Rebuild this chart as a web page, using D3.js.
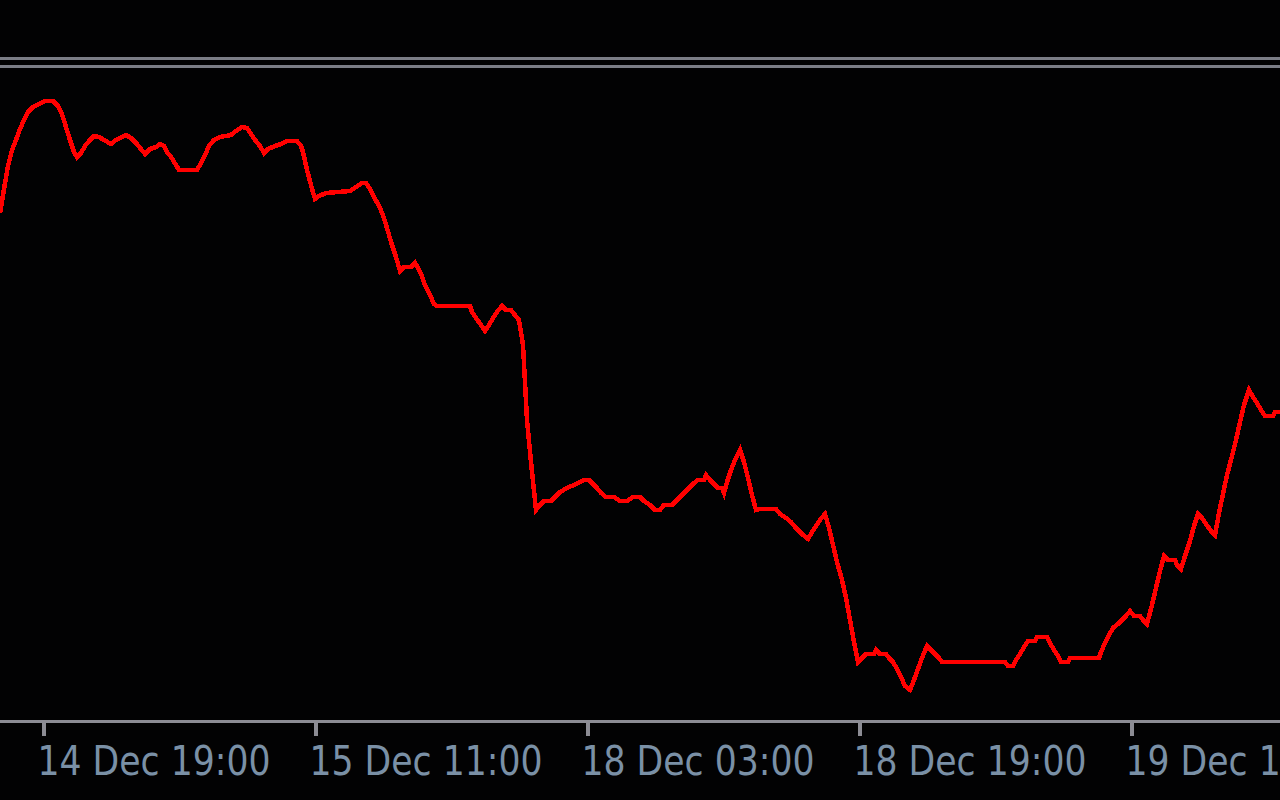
<!DOCTYPE html>
<html>
<head>
<meta charset="utf-8">
<script src="https://cdn.jsdelivr.net/npm/d3@7/dist/d3.min.js"></script>
<style>
  html, body { margin: 0; padding: 0; background: #020203; overflow: hidden; }
  svg { display: block; }
</style>
</head>
<body>
<svg id="chart" width="1280" height="800"></svg>
<script>
// ---- data (bar index on the chart, close price) ----
const bars = [
  -0.75,0.25,1.25,2.25,3.25,4.25,5.25,6.25,7.5,9.5,10.5,12.5,13.75,14.75,15.75,16.75,17.75,18.5,19.5,20.5,
  21.75,22.75,24,25.25,27,28.25,29.75,30.75,32,33.25,34.5,35.5,36.75,38.25,39.25,40.25,41,42,43.25,44,
  48.5,49.5,50.5,51.5,52.75,54.25,57,58.25,59.75,61,62,63,64.25,65.25,66.25,68,69.5,71,73.5,74.5,
  75,76,77,78,79,80.75,86.75,88.25,89.75,90.75,91.75,92.75,94,95,96,97,98.25,99.25,100.25,102,
  103,103.75,104.5,105.5,106.75,107.75,108.5,116.75,117.25,118.25,119.5,120.5,121.5,122.5,123.5,124.75,125.75,127,127.75,129,
  130,131,132,133.25,134.25,135.25,137,138,139.25,141,143.25,145.25,146.5,147.5,148.5,149.5,150.75,152.75,154.25,156,
  157.5,159.25,160.25,161.75,163,164.25,165.25,167.25,168.25,169.25,170.5,171.5,172.5,173.75,175.25,175.75,176.75,177.75,178.75,179.75,
  180.25,181,182,183,184.25,185.25,186.25,187.25,188.25,189.25,193.25,194.25,195.75,197,198,199,200,201.25,202.25,203.25,
  204.25,205.5,206.5,207.5,208.5,209.75,210.75,211.75,212.75,213.75,214.75,215.75,217.75,218.25,219.25,220.75,221.5,222.5,223.5,224.5,
  225.5,226.75,227.75,228.75,229.75,231,232,233,234,234.75,250.5,251.25,252.5,253.25,254.25,255.25,256.25,258,258.5,261,
  261.75,262.75,263.75,264.5,266.25,266.75,274,274.5,275.5,276.5,277.5,278.75,279.75,280.75,281.75,282.75,284.25,285,286,287.25,
  288.25,289.25,290.25,291.25,293,293.5,294.5,295.5,296.75,297.75,298.75,299.75,300.75,302,303,304,305,306,307.25,308.25,
  309.25,310.25,311.5,312.5,313.5,314.5,315.5,317.5,318,319.5
];
const closes = [
  1.09874,1.09922,1.09968,1.10000,1.10020,1.10042,1.10060,1.10076,1.10086,1.10094,1.10098,1.10098,1.10088,1.10072,1.10046,1.10020,1.09996,1.09986,1.09994,1.10008,
  1.10020,1.10028,1.10026,1.10020,1.10012,1.10020,1.10026,1.10030,1.10024,1.10014,1.10002,1.09992,1.10002,1.10006,1.10012,1.10008,1.09996,1.09986,1.09970,1.09960,
  1.09960,1.09974,1.09990,1.10008,1.10020,1.10026,1.10030,1.10038,1.10046,1.10044,1.10032,1.10020,1.10008,1.09994,1.10002,1.10008,1.10012,1.10018,1.10018,1.10008,
  1.09996,1.09960,1.09930,1.09902,1.09908,1.09914,1.09918,1.09926,1.09934,1.09934,1.09922,1.09906,1.09888,1.09870,1.09844,1.09816,1.09786,1.09758,1.09766,1.09766,
  1.09774,1.09764,1.09752,1.09730,1.09710,1.09692,1.09688,1.09688,1.09676,1.09664,1.09650,1.09638,1.09650,1.09664,1.09676,1.09688,1.09680,1.09680,1.09672,1.09660,
  1.09610,1.09460,1.09376,1.09280,1.09290,1.09298,1.09298,1.09306,1.09316,1.09324,1.09332,1.09340,1.09340,1.09332,1.09324,1.09314,1.09306,1.09306,1.09298,1.09298,
  1.09306,1.09306,1.09298,1.09290,1.09280,1.09280,1.09290,1.09290,1.09298,1.09306,1.09316,1.09324,1.09332,1.09340,1.09340,1.09350,1.09340,1.09332,1.09324,1.09324,
  1.09314,1.09336,1.09360,1.09380,1.09400,1.09376,1.09344,1.09310,1.09280,1.09282,1.09282,1.09272,1.09264,1.09256,1.09246,1.09238,1.09230,1.09222,1.09236,1.09248,
  1.09260,1.09272,1.09244,1.09210,1.09176,1.09140,1.09104,1.09060,1.09016,1.08976,1.08984,1.08992,1.08992,1.09000,1.08992,1.08992,1.08984,1.08976,1.08962,1.08946,
  1.08928,1.08920,1.08940,1.08962,1.08984,1.09008,1.09000,1.08992,1.08984,1.08976,1.08976,1.08968,1.08968,1.08980,1.08992,1.09006,1.09018,1.09018,1.09026,1.09026,
  1.09014,1.09000,1.08988,1.08976,1.08976,1.08984,1.08984,1.08996,1.09014,1.09030,1.09044,1.09052,1.09060,1.09068,1.09078,1.09068,1.09068,1.09060,1.09052,1.09090,
  1.09124,1.09158,1.09188,1.09180,1.09180,1.09170,1.09162,1.09188,1.09218,1.09248,1.09272,1.09264,1.09252,1.09238,1.09230,1.09274,1.09312,1.09350,1.09388,1.09420,
  1.09456,1.09490,1.09520,1.09506,1.09494,1.09480,1.09468,1.09468,1.09476,1.09476
];
const tickBars = [10, 78, 146, 214, 282];
const tickLabels = ["14 Dec 19:00", "15 Dec 11:00", "18 Dec 03:00", "18 Dec 19:00", "19 Dec 11:00"];

// ---- drawing ----
const W = 1280, H = 800;
const svg = d3.select("#chart");
svg.append("rect").attr("width", W).attr("height", H).attr("fill", "#020203");

const x = d3.scaleLinear().domain([-0.75, 319.25]).range([0, W]);
const y = d3.scaleLinear().domain([1.0886, 1.1030]).range([720, 0]);

// top separator lines
[57, 65].forEach(t => {
  svg.append("rect").attr("x", 0).attr("y", t).attr("width", W).attr("height", 3)
    .attr("fill", "#7b7d86").attr("shape-rendering", "crispEdges");
});

// price line
const pts = bars.map((b, i) => ({ b, p: closes[i] }));
svg.append("path")
  .datum(pts)
  .attr("fill", "none")
  .attr("stroke", "#ff0000")
  .attr("stroke-width", 4.5)
  .attr("stroke-linejoin", "miter")
  .attr("shape-rendering", "crispEdges")
  .attr("d", d3.line().x(d => x(d.b)).y(d => y(d.p)));

// bottom axis
const axis = d3.axisBottom(x)
  .tickValues(tickBars)
  .tickFormat((d, i) => tickLabels[i])
  .tickSizeOuter(0)
  .tickSizeInner(14.5);

const gAxis = svg.append("g").attr("transform", "translate(0,721.5)").call(axis);
gAxis.select(".domain")
  .attr("d", `M0,0H${W}`)
  .attr("stroke", "#8c8c94").attr("stroke-width", 3).attr("shape-rendering", "crispEdges");
gAxis.selectAll(".tick line")
  .attr("stroke", "#8c8c94").attr("stroke-width", 4).attr("shape-rendering", "crispEdges");
gAxis.selectAll(".tick text")
  .attr("text-anchor", "start")
  .attr("x", -6)
  .attr("y", 53.5)
  .attr("dy", 0)
  .attr("fill", "#7a90a6")
  .attr("font-family", "'DejaVu Sans', sans-serif")
  .attr("font-size", 41)
  .attr("textLength", 233)
  .attr("lengthAdjust", "spacingAndGlyphs");
gAxis.attr("font-family", null).attr("font-size", null);
</script>
</body>
</html>
